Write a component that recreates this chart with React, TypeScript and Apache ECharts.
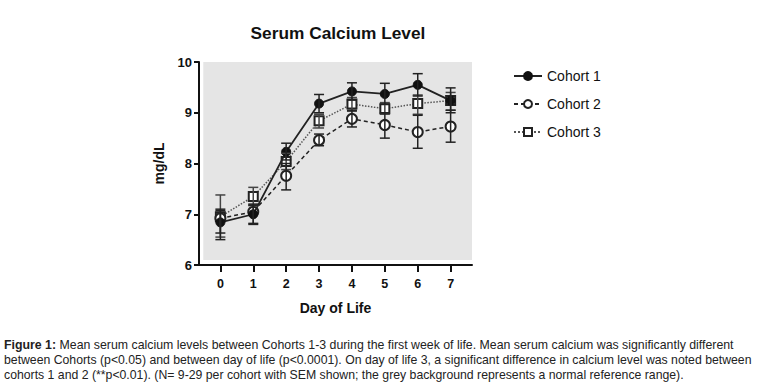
import React, { useEffect, useRef } from "react";
import * as echarts from "echarts";

const days = [0, 1, 2, 3, 4, 5, 6, 7];
const cohort1 = [6.84, 7.0, 8.23, 9.18, 9.42, 9.37, 9.55, 9.24];
const cohort1Low = [6.63, 6.8, 8.07, 9.0, 9.25, 9.17, 9.33, 9.0];
const cohort1High = [7.07, 7.18, 8.4, 9.36, 9.59, 9.58, 9.77, 9.49];
const cohort2 = [6.92, 7.05, 7.76, 8.46, 8.88, 8.76, 8.62, 8.73];
const cohort2Low = [6.5, 6.82, 7.48, 8.35, 8.72, 8.5, 8.3, 8.42];
const cohort2High = [7.1, 7.2, 8.0, 8.58, 9.05, 9.0, 8.95, 9.05];
const cohort3 = [6.95, 7.35, 8.04, 8.84, 9.17, 9.08, 9.18, 9.24];
const cohort3Low = [6.55, 7.17, 7.88, 8.7, 9.03, 8.97, 8.97, 9.05];
const cohort3High = [7.38, 7.53, 8.2, 8.97, 9.3, 9.2, 9.35, 9.4];
const yTicks = [6, 7, 8, 9, 10];
const captionLines = [
  "Mean serum calcium levels between Cohorts 1-3 during the first week of life. Mean serum calcium was significantly different",
  "between Cohorts (p<0.05) and between day of life (p<0.0001). On day of life 3, a significant difference in calcium level was noted between",
  "cohorts 1 and 2 (**p<0.01). (N= 9-29 per cohort with SEM shown; the grey background represents a normal reference range).",
];
const captionScale = [0.95, 0.943, 0.945];

const FONT = "Liberation Sans, Arial, sans-serif";

function errSeries(name: string, low: number[], high: number[], color: string, z: number) {
  return {
    name: name + "-err",
    type: "custom",
    z,
    silent: true,
    data: days.map((d, i) => [d, low[i], high[i]]),
    renderItem: (params: any, api: any) => {
      const x = api.value(0);
      const lo = api.coord([x, api.value(1)]);
      const hi = api.coord([x, api.value(2)]);
      const hw = 5;
      const style = { stroke: color, lineWidth: 1.5, fill: "none" };
      return {
        type: "group",
        children: [
          { type: "line", shape: { x1: lo[0], y1: lo[1], x2: hi[0], y2: hi[1] }, style },
          { type: "line", shape: { x1: lo[0] - hw, y1: lo[1], x2: lo[0] + hw, y2: lo[1] }, style },
          { type: "line", shape: { x1: hi[0] - hw, y1: hi[1], x2: hi[0] + hw, y2: hi[1] }, style },
        ],
      };
    },
  };
}

export default function App() {
  const ref = useRef<HTMLDivElement>(null);
  useEffect(() => {
    document.body.style.margin = "0";
    const chart = echarts.init(ref.current!, null, { renderer: "svg" });
    const option: any = {
      animation: false,
      backgroundColor: "#ffffff",
      title: {
        text: "Serum Calcium Level",
        left: 333,
        top: 19,
        textAlign: "center",
        textStyle: { fontFamily: FONT, fontSize: 17.3, fontWeight: "bold", color: "#111" },
      },
      legend: {
        orient: "vertical",
        left: 508,
        top: 64,
        itemGap: 14,
        itemWidth: 28,
        itemHeight: 10,
        textStyle: { fontFamily: FONT, fontSize: 14, color: "#111" },
        data: ["Cohort 1", "Cohort 2", "Cohort 3"],
      },
      grid: { left: 199, top: 62, right: 288, bottom: 122 },
      xAxis: {
        type: "value",
        min: -0.65,
        max: 7.65,
        name: "Day of Life",
        nameLocation: "middle",
        nameGap: 36,
        nameTextStyle: { fontFamily: FONT, fontSize: 14, fontWeight: "bold", color: "#111" },
        splitLine: { show: false },
        axisLine: { onZero: false, lineStyle: { color: "#111", width: 2 } },
        axisTick: { show: true, length: 7, lineStyle: { width: 2, color: "#111" }, customValues: days },
        axisLabel: {
          customValues: days,
          margin: 12,
          fontFamily: FONT,
          fontSize: 12.5,
          fontWeight: "bold",
          color: "#111",
        },
      },
      yAxis: {
        type: "value",
        min: 6,
        max: 10,
        interval: 1,
        name: "mg/dL",
        nameLocation: "middle",
        nameGap: 33,
        nameTextStyle: { fontFamily: FONT, fontSize: 14, fontWeight: "bold", color: "#111" },
        splitLine: { show: false },
        axisLine: { show: true, onZero: false, lineStyle: { color: "#111", width: 2 } },
        axisTick: { show: true, length: 5, lineStyle: { width: 2, color: "#111" } },
        axisLabel: {
          margin: 7,
          fontFamily: FONT,
          fontSize: 13,
          fontWeight: "bold",
          color: "#111",
          formatter: (v: number) => (yTicks.includes(v) ? String(v) : ""),
        },
      },
      series: [
        {
          name: "bg",
          type: "line",
          data: [],
          silent: true,
          z: 0,
          markArea: {
            silent: true,
            itemStyle: { color: "#e5e5e5" },
            data: [[{ coord: [-0.52, 6.1] }, { coord: [7.65, 10] }]],
          },
        },
        errSeries("Cohort 3", cohort3Low, cohort3High, "#444", 7),
        errSeries("Cohort 2", cohort2Low, cohort2High, "#222", 7),
        errSeries("Cohort 1", cohort1Low, cohort1High, "#222", 7),
        {
          name: "Cohort 3",
          type: "line",
          z: 4,
          data: days.map((d, i) => [d, cohort3[i]]),
          symbol: "rect",
          symbolSize: 9,
          lineStyle: { color: "#555", width: 1.5, type: "dotted" },
          itemStyle: { color: "#fff", borderColor: "#222", borderWidth: 2 },
        },
        {
          name: "Cohort 2",
          type: "line",
          z: 5,
          data: days.map((d, i) => [d, cohort2[i]]),
          symbol: "circle",
          symbolSize: 10,
          lineStyle: { color: "#222", width: 1.5, type: [4, 3] },
          itemStyle: { color: "#fff", borderColor: "#222", borderWidth: 2 },
        },
        {
          name: "Cohort 1",
          type: "line",
          z: 6,
          data: days.map((d, i) => [d, cohort1[i]]),
          symbol: "circle",
          symbolSize: 9,
          lineStyle: { color: "#222", width: 1.8 },
          itemStyle: { color: "#111", borderColor: "#111", borderWidth: 1 },
        },
      ],
      graphic: captionLines.map((line, i) => ({
        type: "text",
        x: 4,
        y: 338 + i * 15,
        scaleX: captionScale[i],
        style: {
          text: i === 0 ? "{b|Figure 1:} " + line : line,
          fontFamily: FONT,
          fontSize: 13,
          fill: "#222",
          rich: { b: { fontWeight: "bold", fontFamily: FONT, fontSize: 13, fill: "#222" } },
        },
      })),
    };
    chart.setOption(option);
    return () => chart.dispose();
  }, []);
  return <div ref={ref} style={{ width: 760, height: 387 }} />;
}
